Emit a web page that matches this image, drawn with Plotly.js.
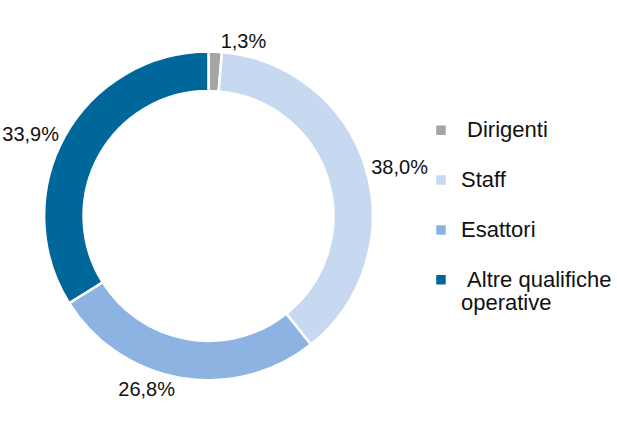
<!DOCTYPE html>
<html><head><meta charset="utf-8">
<script src="https://cdn.plot.ly/plotly-3.0.1.min.js"></script>
<style>html,body{margin:0;padding:0;background:#fff}#chart{width:617px;height:423px}</style>
</head><body><div id="chart"></div>
<script>
const categories = ["Dirigenti", "Staff", "Esattori", "Altre qualifiche operative"];
const values = [1.3, 38.0, 26.8, 33.9];
const valueLabels = ["1,3%", "38,0%", "26,8%", "33,9%"];
const colors = ["#A5A5A5", "#C6D9F1", "#8DB3E2", "#00679A"];

// legend text: first line larger, second line keeps the entry spacing
const big = s => '<span style="font-size:22px">' + s + '</span>';
const legendLabels = [
  big("\u00a0Dirigenti") + "<br> ",
  big("Staff") + "<br> ",
  big("Esattori") + "<br> ",
  big("\u00a0Altre qualifiche") + "<br>" + big("operative")
];

const trace = {
  type: "pie",
  labels: legendLabels,
  values: values,
  text: valueLabels,
  textinfo: "text",
  textposition: "outside",
  hole: 0.76,
  sort: false,
  direction: "clockwise",
  rotation: 0,
  marker: {colors: colors, line: {color: "#ffffff", width: 2.5}},
  outsidetextfont: {family: "Liberation Sans, Arial, sans-serif", size: 20, color: "#111"},
  domain: {x: [0.0722, 0.6102], y: [0.097, 0.882]},
  hoverinfo: "text"
};
const layout = {
  width: 617, height: 423,
  margin: {l: 0, r: 0, t: 0, b: 0},
  paper_bgcolor: "#fff",
  showlegend: true,
  legend: {x: 0.689, y: 0.735, xanchor: "left", yanchor: "top", valign: "top",
    bgcolor: "rgba(0,0,0,0)",
    font: {family: "Liberation Sans, Arial, sans-serif", size: 18, color: "#111"},
    itemwidth: 30}
};
Plotly.newPlot("chart", [trace], layout, {displayModeBar: false});
</script></body></html>
